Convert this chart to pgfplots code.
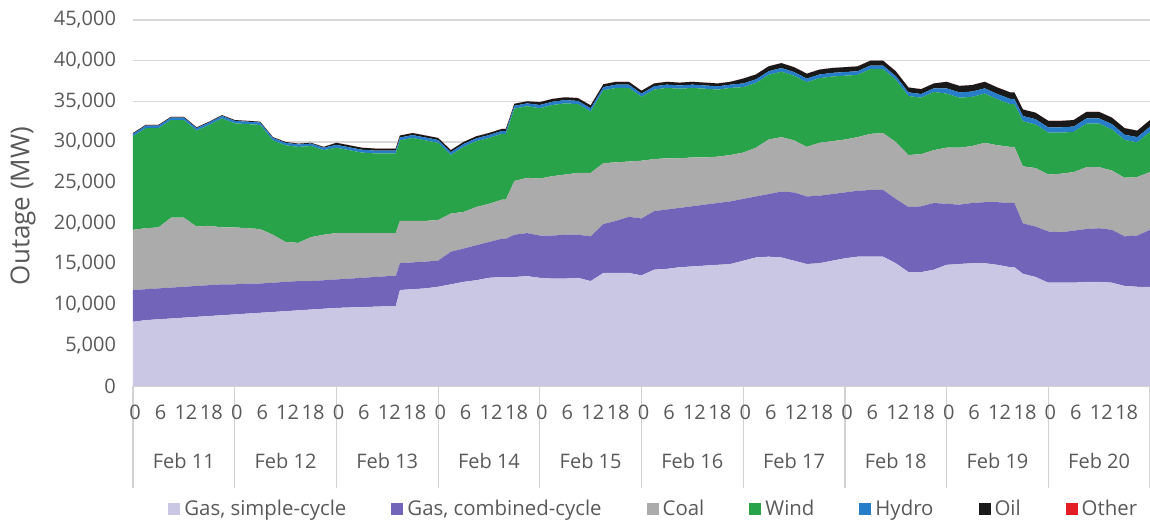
\documentclass[border=0pt]{standalone}
\usepackage{fontspec}
\setmainfont{Open Sans}
\usepackage{pgfplots}
\usepackage{pgfplotstable}
\pgfplotsset{compat=1.18}
\definecolor{cSC}{RGB}{201,199,228}
\definecolor{cCC}{RGB}{113,100,185}
\definecolor{cCoal}{RGB}{171,171,171}
\definecolor{cWind}{RGB}{41,163,74}
\definecolor{cHydro}{RGB}{40,125,200}
\definecolor{cOil}{RGB}{25,25,25}
\definecolor{cOther}{RGB}{226,30,36}
\definecolor{txtgray}{RGB}{89,89,89}
\definecolor{gridgray}{RGB}{217,217,217}
\definecolor{axisgray}{RGB}{210,210,210}
\pgfplotstableread{
h sc cc coal wind hydro oil other
0 7900 3900 7400 11500 300 100 0
3 8100 3800 7500 12300 300 100 0
6 8200 3800 7500 12200 300 100 0
9 8300 3800 8600 12000 300 100 0
12 8400 3800 8500 12000 300 100 0
15 8500 3800 7300 11800 300 100 0
18 8600 3800 7300 12400 300 100 0
21 8700 3800 7000 13400 300 100 0
24 8800 3700 7000 12800 300 100 0
27 8900 3700 6800 12800 300 100 0
30 9000 3600 6700 12800 300 100 0
33 9100 3600 5900 11600 300 100 0
36 9200 3600 4900 11900 300 100 0
39 9300 3600 4700 11800 300 100 0
42 9400 3500 5400 11200 300 100 0
45 9500 3500 5600 10400 300 100 0
48 9600 3500 5700 10500 350 250 0
51 9650 3550 5600 10200 350 250 0
54 9700 3600 5500 9900 350 250 0
57 9750 3650 5400 9800 350 250 0
60 9800 3700 5300 9800 350 250 0
62 9800 3700 5300 9800 350 250 0
63 11800 3300 5200 9900 350 250 0
66 11900 3300 5100 10200 350 250 0
69 12000 3300 5000 9900 350 250 0
72 12200 3200 5000 9500 350 250 0
75 12500 4000 4700 7200 350 250 0
78 12800 4100 4500 8000 350 250 0
81 13000 4300 4700 8100 350 250 0
84 13300 4400 4700 8100 350 250 0
87 13400 4700 4800 8100 350 250 0
88 13400 4700 4800 8100 350 250 0
90 13400 5200 6600 8900 350 250 0
93 13500 5300 6800 8800 350 250 0
96 13300 5200 7000 8650 400 350 0
99 13200 5300 7300 8750 400 350 0
102 13200 5400 7400 8750 400 350 0
105 13300 5300 7600 8450 400 350 0
108 12900 5500 7800 7550 400 350 0
111 13900 6000 7500 8950 400 350 0
114 13900 6400 7200 9150 400 350 0
117 13900 6900 6800 9050 400 350 0
120 13600 7000 7100 7850 400 350 0
123 14300 7200 6400 8550 400 350 0
126 14400 7300 6300 8650 400 350 0
129 14600 7300 6100 8550 400 350 0
132 14700 7400 6000 8550 400 350 0
135 14800 7500 5800 8450 400 350 0
138 14900 7600 5700 8250 400 350 0
141 15000 7700 5700 8250 400 350 0
144 15400 7600 5700 8050 450 600 0
147 15800 7500 6000 7950 450 600 0
150 15900 7700 6700 7950 450 600 0
153 15800 8100 6700 8050 450 600 0
156 15400 8400 6400 7950 450 600 0
159 15000 8300 6100 7950 450 600 0
162 15100 8300 6500 7950 450 600 0
165 15400 8200 6500 7950 450 600 0
168 15700 8100 6500 7850 450 600 0
171 15900 8100 6600 7650 450 600 0
174 15900 8200 6900 7950 450 600 0
177 15900 8200 7000 7850 450 600 0
180 15100 7900 7000 7650 450 600 0
183 14000 8000 6400 7250 450 600 0
186 14000 8100 6400 6950 450 600 0
189 14300 8200 6500 7150 450 600 0
192 14900 7500 6900 6650 650 800 0
195 15000 7300 7000 6150 650 800 0
198 15100 7400 7000 6050 650 800 0
201 15100 7500 7300 6050 650 800 0
204 14900 7700 7000 5650 650 800 0
207 14600 7900 6900 5250 650 800 0
208 14600 7900 6900 5250 650 800 0
210 13800 6200 7000 5550 650 800 0
213 13400 6200 7200 5350 650 800 0
216 12700 6300 7000 5150 650 800 0
219 12700 6200 7200 5050 650 800 0
222 12700 6400 7200 4950 650 800 0
225 12800 6500 7600 5350 650 800 0
228 12800 6600 7500 5350 650 800 0
231 12700 6500 7300 5050 650 800 0
234 12300 6100 7200 4650 650 800 0
237 12200 6300 7200 4250 650 800 0
240 12200 7000 7100 4950 650 800 0
}\data
\begin{document}
\begin{tikzpicture}
\begin{axis}[
  at={(0,0)}, anchor=south west,
  width=508.5pt, height=183pt, scale only axis,
  xmin=0, xmax=240, ymin=0, ymax=45000,
  stack plots=y, area style, axis on top=false,
  axis x line*=bottom, axis y line*=left,
  y axis line style={draw=none},
  x axis line style={draw=axisgray, line width=0.6pt},
  ytick={0,5000,...,45000},
  ymajorgrids, grid style={draw=gridgray, line width=0.6pt},
  major tick length=0pt,
  tick align=outside,
  xtick={0.5,6.5,...,234.5},
  xticklabels={0,6,12,18,0,6,12,18,0,6,12,18,0,6,12,18,0,6,12,18,0,6,12,18,0,6,12,18,0,6,12,18,0,6,12,18,0,6,12,18},
  minor xtick={0,24,...,240},
  minor tick length=51pt,
  minor x tick style={draw=axisgray, line width=0.6pt},
  extra x ticks={12,36,...,228},
  extra x tick labels={Feb 11,Feb 12,Feb 13,Feb 14,Feb 15,Feb 16,Feb 17,Feb 18,Feb 19,Feb 20},
  extra x tick style={major tick length=0pt, xticklabel style={yshift=-24pt}},
  ticklabel style={font=\fontsize{10}{12}\selectfont, text=txtgray},
  xticklabel style={yshift=-6pt},
  yticklabel style={xshift=-5pt, /pgf/number format/1000 sep={,}},
  scaled y ticks=false,
  /pgf/number format/assume math mode=true,
  legend columns=-1,
  legend cell align=left,
  legend image code/.code={\fill[#1] (0pt,-3pt) rectangle (6pt,3pt);},
  legend style={at={(0.513,0)}, anchor=center, yshift=-61.5pt, draw=none, fill=none,
    font=\fontsize{10.2}{12}\selectfont, text=txtgray, inner sep=0pt,
    /tikz/every even column/.append style={column sep=20.5pt}},
]
\addplot[fill=cSC, draw=none] table[x=h, y=sc]{\data} \closedcycle;
\addplot[fill=cCC, draw=none] table[x=h, y=cc]{\data} \closedcycle;
\addplot[fill=cCoal, draw=none] table[x=h, y=coal]{\data} \closedcycle;
\addplot[fill=cWind, draw=none] table[x=h, y=wind]{\data} \closedcycle;
\addplot[fill=cHydro, draw=none] table[x=h, y=hydro]{\data} \closedcycle;
\addplot[fill=cOil, draw=none] table[x=h, y=oil]{\data} \closedcycle;
\addplot[fill=cOther, draw=none] table[x=h, y=other]{\data} \closedcycle;
\legend{Gas{,} simple-cycle, Gas{,} combined-cycle, Coal, Wind, Hydro, Oil, Other}
\end{axis}
\node[rotate=90, font=\fontsize{13}{15}\selectfont, text=txtgray] at (-55pt,90pt) {Outage (MW)};
\pgfresetboundingbox
\useasboundingbox (-66.5pt,-68.5pt) rectangle (508.5pt,193pt);
\end{tikzpicture}
\end{document}
